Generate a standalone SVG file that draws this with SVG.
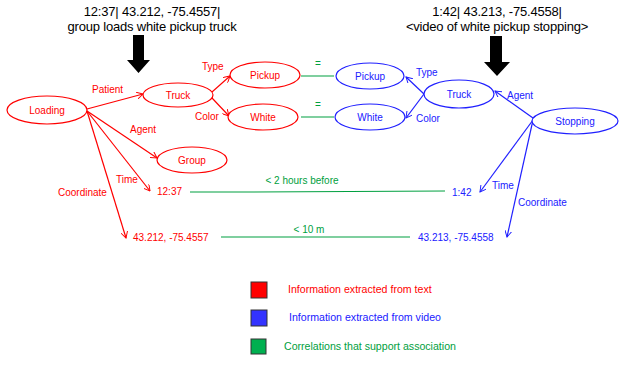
<svg xmlns="http://www.w3.org/2000/svg" width="625" height="367" viewBox="0 0 625 367">
<defs>
<marker id="ar" viewBox="0 0 10 10" refX="9" refY="5" markerWidth="7" markerHeight="7" orient="auto" markerUnits="userSpaceOnUse"><path d="M0,0 L9,5 L0,10" fill="none" stroke="#ff0000" stroke-width="1.4"/></marker>
<marker id="ab" viewBox="0 0 10 10" refX="9" refY="5" markerWidth="7" markerHeight="7" orient="auto" markerUnits="userSpaceOnUse"><path d="M0,0 L9,5 L0,10" fill="none" stroke="#2020ff" stroke-width="1.4"/></marker>
</defs>
<style>
text{font-family:"Liberation Sans",Arial,sans-serif;font-size:10px}
.t{font-size:13px;fill:#000;text-anchor:middle;letter-spacing:-0.2px}
.r{fill:#ff0000}
.b{fill:#2020ff}
.g{fill:#00a040}
.m{text-anchor:middle}
.lg10{font-size:10.6px}
.er{fill:#fff;stroke:#ff0000;stroke-width:1.2}
.eb{fill:#fff;stroke:#2020ff;stroke-width:1.2}
.lr{stroke:#ff0000;stroke-width:1.2;fill:none;marker-end:url(#ar)}
.lb{stroke:#2020ff;stroke-width:1.2;fill:none;marker-end:url(#ab)}
.lg{stroke:#00a040;stroke-width:1.2;fill:none}
</style>
<rect width="625" height="367" fill="#fff"/>
<g id="titles">
<text class="t" x="152" y="16">12:37| 43.212, -75.4557|</text>
<text class="t" x="152" y="30.5">group loads white pickup truck</text>
<text class="t" x="497" y="16">1:42| 43.213, -75.4558|</text>
<text class="t" x="497" y="30.5">&lt;video of  white pickup stopping&gt;</text>
<polygon points="133,35 144,35 144,60 150,60 138.5,73 127,60 133,60" fill="#000"/>
<polygon points="490,36 502,36 502,62 510,62 497,76 484,62 490,62" fill="#000"/>
</g>
<g id="connectors">
<line class="lr" x1="87" y1="109" x2="143" y2="94"/>
<line class="lr" x1="212" y1="92" x2="230" y2="76"/>
<line class="lr" x1="212" y1="98" x2="229" y2="116"/>
<line class="lr" x1="87" y1="111" x2="157" y2="158"/>
<line class="lr" x1="87" y1="111" x2="150" y2="191"/>
<line class="lr" x1="87" y1="111" x2="126" y2="238"/>
<line class="lb" x1="424" y1="94" x2="406" y2="77"/>
<line class="lb" x1="424" y1="94" x2="406" y2="118"/>
<line class="lb" x1="533" y1="118" x2="495" y2="91"/>
<line class="lb" x1="533" y1="120" x2="480" y2="192"/>
<line class="lb" x1="533" y1="120" x2="507" y2="237"/>
<line class="lg" x1="301" y1="76" x2="334" y2="76"/>
<line class="lg" x1="301" y1="117" x2="334" y2="117"/>
<polyline class="lg" points="190,192 253,192 445,191"/>
<line class="lg" x1="221" y1="237" x2="410" y2="237"/>
<text class="r" x="92" y="93">Patient</text>
<text class="r" x="202" y="70">Type</text>
<text class="r" x="195" y="120">Color</text>
<text class="r" x="130" y="133">Agent</text>
<text class="r" x="116" y="183">Time</text>
<text class="r" x="58" y="196">Coordinate</text>
<text class="b" x="416" y="76">Type</text>
<text class="b" x="416" y="122">Color</text>
<text class="b" x="507" y="99">Agent</text>
<text class="b" x="492" y="189">Time</text>
<text class="b" x="518" y="206">Coordinate</text>
<text class="g m" x="318" y="67">=</text>
<text class="g m" x="318" y="108">=</text>
<text class="g m" x="302" y="184">&lt; 2 hours before</text>
<text class="g m" x="309" y="233">&lt; 10 m</text>
</g>
<g id="loading"><ellipse class="er" cx="47" cy="110" rx="40" ry="14"/><text class="r m" x="47" y="114">Loading</text></g>
<g id="truck-r"><ellipse class="er" cx="178" cy="95" rx="35" ry="12"/><text class="r m" x="178" y="99">Truck</text></g>
<g id="pickup-r"><ellipse class="er" cx="265" cy="75" rx="35" ry="13"/><text class="r m" x="265" y="79">Pickup</text></g>
<g id="white-r"><ellipse class="er" cx="263" cy="117" rx="35" ry="13"/><text class="r m" x="263" y="121">White</text></g>
<g id="group-r"><ellipse class="er" cx="192" cy="160" rx="35" ry="13"/><text class="r m" x="192" y="164">Group</text></g>
<g id="time-r"><text class="r" x="157" y="195">12:37</text></g>
<g id="coord-r"><text class="r" x="133" y="241">43.212, -75.4557</text></g>
<g id="pickup-b"><ellipse class="eb" cx="370" cy="76" rx="34" ry="13"/><text class="b m" x="370" y="80">Pickup</text></g>
<g id="white-b"><ellipse class="eb" cx="370" cy="117" rx="35" ry="13"/><text class="b m" x="370" y="121">White</text></g>
<g id="truck-b"><ellipse class="eb" cx="459" cy="94" rx="35" ry="14"/><text class="b m" x="459" y="98">Truck</text></g>
<g id="stopping"><ellipse class="eb" cx="575" cy="121" rx="43" ry="13"/><text class="b m" x="575" y="125">Stopping</text></g>
<g id="time-b"><text class="b" x="452" y="196">1:42</text></g>
<g id="coord-b"><text class="b" x="418" y="241">43.213, -75.4558</text></g>
<g id="legend">
<rect x="251" y="282" width="16" height="16" fill="#ff0000" stroke="#333" stroke-width="1"/>
<text class="r lg10" x="288" y="293">Information extracted from text</text>
<rect x="251" y="310" width="16" height="16" fill="#3333ff" stroke="#333" stroke-width="1"/>
<text class="b lg10" x="289" y="321">Information extracted from video</text>
<rect x="251" y="339" width="15" height="15" fill="#00b050" stroke="#333" stroke-width="1"/>
<text class="g lg10" x="284" y="350">Correlations that support association</text>
</g>
</svg>
